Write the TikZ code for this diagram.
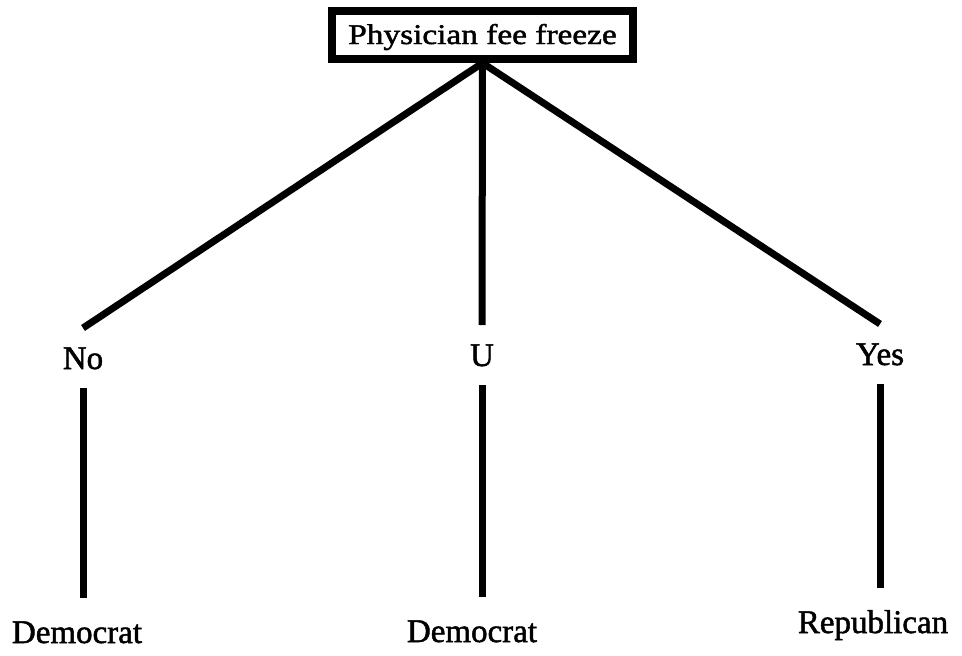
\documentclass[tikz,border=0pt]{standalone}
\usepackage{fontspec}
\setmainfont{Liberation Serif}[FakeBold=1.5]
\usepackage{graphicx}
\begin{document}
\begin{tikzpicture}[x=1pt,y=-1pt,
  edge/.style={line width=7pt},
  lbl/.style={font=\fontsize{33}{40}\selectfont, text height=22pt, text depth=0pt, inner xsep=0pt, inner ysep=19pt, outer sep=0pt, anchor=base},
  leaf/.style={lbl, inner ysep=23pt},
  rootbox/.style={draw, line width=8pt, minimum width=301pt, minimum height=48.5pt, inner sep=0pt, font=\fontsize{28.5}{32}\selectfont, text height=18.5pt, text depth=0pt}]
\useasboundingbox (0,0) rectangle (962,656);
\node[rootbox] (root) at (482.5,34.75) {\scalebox{1.17}[1]{Physician fee freeze}};
\node[lbl] (no) at (83,369) {No};
\node[lbl] (u) at (482,366) {U};
\node[lbl] (yes) at (880,365) {Yes};
\node[leaf] (d1) at (77,643) {Democrat};
\node[leaf] (d2) at (472,642) {Democrat};
\node[leaf] (r) at (873,633) {Republican};
\draw[edge] (root.south) -- (no.north);
\draw[edge] (root.south) -- (u.north);
\draw[edge] (root.south) -- (yes.north);
\draw[edge] (no.south) -- (no.south |- d1.north);
\draw[edge] (u.south) -- (u.south |- d2.north);
\draw[edge] (yes.south) -- (yes.south |- r.north);
\end{tikzpicture}
\end{document}
